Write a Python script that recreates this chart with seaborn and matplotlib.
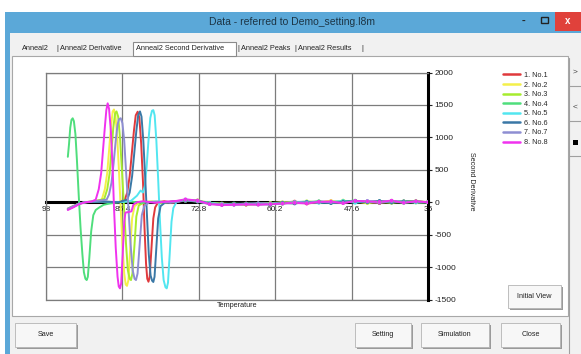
import numpy as np
import pandas as pd
import matplotlib
matplotlib.use("Agg")
import matplotlib.pyplot as plt
from matplotlib.patches import Rectangle
import seaborn as sns

# ---- data ----
SERIES = ["1. No.1", "2. No.2", "3. No.3", "4. No.4",
          "5. No.5", "6. No.6", "7. No.7", "8. No.8"]
COLORS = ["#e0393c", "#f4f04a", "#a6ec2e", "#4fde7c",
          "#52e6f0", "#3a78a6", "#8e8ed2", "#f032ee"]

X_TICKS = [98, 85.4, 72.8, 60.2, 47.6, 35]
X_LABELS = ["98", "85.4", "72.8", "60.2", "47.6", "35"]
Y_TICKS = [2000, 1500, 1000, 500, 0, -500, -1000, -1500]

# melt region, temperature (deg C) / second derivative
T1 = [94.4, 93.5, 92.5, 91.5, 89.0, 86.0, 85.0, 84.6, 84.2, 83.85, 83.5, 83.2, 82.88, 82.6, 82.3,
      82.0, 81.75, 81.5, 81.3, 81.1, 80.9, 80.6, 80.3, 80.0, 79.5, 78.5, 77.0]
V1 = [-100, -60, -20, 0, 10, 0, 40, 150, 400, 750, 1100, 1340, 1396, 1300, 900,
      300, -400, -950, -1180, -1226, -1150, -700, -250, -80, 0, 15, -10]

T2 = [94.4, 93.5, 92.5, 91.5, 90.0, 88.8, 88.3, 87.9, 87.6, 87.3, 87.0, 86.79, 86.55, 86.25,
      85.95, 85.7, 85.4, 85.1, 84.85, 84.64, 84.4, 84.1, 83.8, 83.4, 82.5, 81.0, 79.0, 77.0]
V2 = [-110, -70, -20, 0, 10, 40, 200, 450, 800, 1150, 1400, 1430, 1340, 1000,
      450, -50, -650, -1100, -1270, -1290, -1200, -700, -250, -60, 0, 10, -10, 15]

T3 = [94.4, 93.5, 92.5, 91.5, 90.0, 88.4, 87.9, 87.5, 87.2, 86.9, 86.6, 86.37, 86.1, 85.8,
      85.45, 85.15, 84.8, 84.5, 84.2, 83.98, 83.75, 83.4, 83.1, 82.7, 81.8, 80.5, 79.0, 77.0]
V3 = [-100, -60, -20, 0, 15, 50, 200, 450, 800, 1150, 1370, 1400, 1320, 1000,
      450, -50, -650, -1050, -1180, -1200, -1100, -650, -220, -50, 0, 10, -15, 10]

T4 = [94.4, 94.2, 94.0, 93.8, 93.6, 93.4, 93.15, 92.9, 92.6, 92.3, 92.0, 91.75, 91.5, 91.29,
      91.1, 90.85, 90.55, 90.2, 89.8, 89.2, 88.5, 87.5, 86.0, 84.0, 82.0, 80.0, 78.0, 76.5]
V4 = [700, 900, 1150, 1270, 1294, 1250, 1050, 650, 100, -400, -800, -1080, -1180, -1200,
      -1150, -850, -450, -200, -120, -80, -40, -20, 0, 10, -10, 10, 0, 15]

T5 = [94.4, 93.5, 92.5, 91.5, 89.0, 86.0, 84.0, 83.0, 82.4, 82.0, 81.7, 81.4, 81.1, 80.8, 80.52,
      80.3, 80.08, 79.8, 79.5, 79.2, 78.9, 78.6, 78.3, 78.09, 77.88, 77.6, 77.3, 77.0, 76.5, 75.8]
V5 = [-110, -70, -20, 0, 10, 0, 20, 100, 180, 150, 250, 550, 950, 1300, 1410,
      1420, 1340, 950, 350, -300, -850, -1200, -1310, -1328, -1240, -800, -300, -90, 0, 20]

T6 = [94.4, 93.5, 92.5, 91.5, 89.0, 86.0, 84.6, 84.2, 83.8, 83.45, 83.1, 82.8, 82.5, 82.25,
      81.95, 81.65, 81.35, 81.05, 80.75, 80.5, 80.3, 80.1, 79.8, 79.5, 79.1, 78.3, 77.0]
V6 = [-110, -70, -20, 0, 10, 0, 40, 150, 400, 750, 1100, 1340, 1400, 1320,
      950, 400, -200, -800, -1130, -1210, -1230, -1150, -700, -250, -60, 0, 10]

T7 = [94.4, 93.5, 92.5, 91.5, 90.0, 88.0, 87.6, 87.2, 86.85, 86.5, 86.2, 85.95, 85.68, 85.4,
      85.1, 84.75, 84.4, 84.05, 83.7, 83.4, 83.16, 82.9, 82.55, 82.2, 81.8, 81.0, 79.5, 77.5]
V7 = [-100, -60, -20, 0, 15, 40, 120, 300, 600, 950, 1200, 1280, 1295, 1220,
      950, 400, -100, -650, -1050, -1180, -1200, -1100, -650, -200, -60, 0, 10, -10]

T8 = [94.4, 93.5, 92.5, 91.5, 90.5, 89.8, 89.3, 88.9, 88.6, 88.3, 88.05, 87.83, 87.6, 87.3, 87.0,
      86.8, 86.5, 86.2, 86.0, 85.8, 85.6, 85.35, 85.1, 84.9, 84.3, 83.9, 83.6, 83.0, 82.0, 80.0,
      78.0, 76.5]
V8 = [-120, -80, -30, 0, 10, 40, 200, 450, 800, 1150, 1420, 1525, 1440, 1100, 500,
      -50, -700, -1150, -1300, -1328, -1250, -800, -300, -160, -150, -140, -40, 0, 15, -10,
      10, 20]

# flat noisy tail, shared temperature grid
TAIL_T = [75, 73, 71, 69, 67, 65, 63, 61, 59, 57, 55, 53, 51, 49, 47, 45, 43, 41, 39, 37, 35]
TAIL_1 = [30, 20, -20, -30, -25, -35, -20, -30, -10, 10, -20, 0, 15, -10, 20, 10, -15, 20, 5, 10, 0]
TAIL_2 = [20, 30, -10, -25, -35, -20, -30, -15, 0, -10, 15, -5, 20, 0, 10, -15, 10, 0, 15, -5, 0]
TAIL_3 = [35, 15, -15, -20, -30, -40, -25, -10, -20, 5, -10, 10, -5, 25, 0, 15, 5, -10, 10, 20, 0]
TAIL_4 = [25, 10, -25, -35, -20, -30, -35, -20, -5, -15, 0, 15, -10, 10, 25, -5, 15, 10, -10, 5, 0]
TAIL_5 = [40, 20, -10, -30, -40, -25, -20, -25, -15, 0, 10, -10, 5, 20, -10, 20, 0, 15, 10, -5, 0]
TAIL_6 = [20, 25, -20, -40, -30, -20, -30, -35, -10, -20, 5, 0, -15, 10, 15, 0, 20, -5, 15, 10, 0]
TAIL_7 = [30, 10, -30, -25, -35, -30, -15, -20, -25, 5, -5, 10, 0, -10, 20, 10, -10, 15, 0, 10, 0]
TAIL_8 = [45, 25, -30, -45, -40, -35, -40, -30, -20, -10, -20, 5, 10, -15, 20, 15, 5, 25, -10, 15, 0]

HEADS = [(T1, V1), (T2, V2), (T3, V3), (T4, V4), (T5, V5), (T6, V6), (T7, V7), (T8, V8)]
TAILS = [TAIL_1, TAIL_2, TAIL_3, TAIL_4, TAIL_5, TAIL_6, TAIL_7, TAIL_8]

rows, tail_rows = [], []
for name, (th, vh), vt in zip(SERIES, HEADS, TAILS):
    for t, v in zip(th + TAIL_T, vh + vt):
        rows.append((name, t, v))
    for t, v in zip(TAIL_T, vt):
        tail_rows.append((name, t, v))
df = pd.DataFrame(rows, columns=["series", "temp", "value"])
df_tail = pd.DataFrame(tail_rows, columns=["series", "temp", "value"])

# ---- figure / window chrome ----
sns.set_style("white")
plt.rcParams["font.family"] = ["Liberation Sans", "DejaVu Sans"]

W, H = 581, 354
fig = plt.figure(figsize=(W / 100, H / 100), dpi=100)


def rect(x0, y0, x1, y1, **kw):
    fig.patches.append(Rectangle((x0 / W, 1 - y1 / H), (x1 - x0) / W, (y1 - y0) / H,
                                 transform=fig.transFigure, **kw))


def txt(x, y, s, **kw):
    fig.text(x / W, 1 - y / H, s, **kw)


rect(0, 0, W, H, facecolor="white", edgecolor="none")
rect(5, 12, W, H, facecolor="#5ba8d8", edgecolor="none")
rect(10, 33, W, H, facecolor="#f1f1f1", edgecolor="none")
txt(292, 22, "Data - referred to Demo_setting.l8m", fontsize=7.5, color="#1c3444",
    ha="center", va="center")
rect(555, 12, W, 31, facecolor="#e0413b", edgecolor="none")
txt(568, 21, "x", fontsize=7, color="white", ha="center", va="center", weight="bold")
txt(523, 21, "-", fontsize=8, color="#222222", ha="center", va="center", weight="bold")
rect(541, 17, 548, 23, facecolor="none", edgecolor="#222222", linewidth=1)

# tab strip
rect(12, 56, 568, 316, facecolor="white", edgecolor="#a8a8a8", linewidth=0.8)
rect(133, 42, 236, 56, facecolor="white", edgecolor="#8a8a8a", linewidth=0.8)
tab_font = dict(fontsize=5.3, color="#222222", va="center")
txt(22, 49, "Anneal2", **tab_font)
txt(56, 49, "|", **tab_font)
txt(60, 49, "Anneal2 Derivative", **tab_font)
txt(136, 49, "Anneal2 Second Derivative", **tab_font)
txt(237, 49, "|", **tab_font)
txt(241, 49, "Anneal2 Peaks", **tab_font)
txt(294, 49, "|", **tab_font)
txt(298, 49, "Anneal2 Results", **tab_font)
txt(361, 49, "|", **tab_font)

# right side strip
fig.add_artist(plt.Line2D([569 / W, 569 / W], [1 - 58 / H, 0], color="#a0a0a0", lw=0.8))
for yy in (86, 121, 156):
    fig.add_artist(plt.Line2D([569 / W, 1], [1 - yy / H] * 2, color="#a0a0a0", lw=0.8))
txt(575, 72, ">", fontsize=6, color="#444444", ha="center", va="center")
txt(575, 107, "<", fontsize=6, color="#444444", ha="center", va="center")
rect(573, 140, 578, 145, facecolor="black", edgecolor="none")


def button(x0, y0, x1, y1, label):
    rect(x0 + 1.5, y0 + 1.5, x1 + 1.5, y1 + 1.5, facecolor="#9a9a9a", edgecolor="none")
    rect(x0, y0, x1, y1, facecolor="#f7f7f7", edgecolor="#b4b4b4", linewidth=0.6)
    txt((x0 + x1) / 2, (y0 + y1) / 2, label, fontsize=5.2, color="#222222",
        ha="center", va="center")


button(15, 323, 76, 347, "Save")
button(355, 323, 411, 347, "Setting")
button(421, 323, 489, 347, "Simulation")
button(501, 323, 560, 347, "Close")
button(508, 285, 561, 308, "Initial View")

# ---- the chart ----
L, R, TOP, BOT = 46, 428, 72.5, 299.5
ax = fig.add_axes([L / W, 1 - BOT / H, (R - L) / W, (BOT - TOP) / H])
ax.set_zorder(5)
ax.set_facecolor("white")

sns.lineplot(data=df, x="temp", y="value", hue="series", palette=COLORS,
             estimator=None, sort=False, linewidth=1.4, ax=ax, zorder=3)
sns.scatterplot(data=df_tail, x="temp", y="value", hue="series", palette=COLORS,
                s=7, linewidth=0, legend=False, ax=ax, zorder=3)

ax.set_xlim(98, 35)
ax.set_ylim(-1500, 2000)
ax.set_xticks(X_TICKS)
ax.set_xticklabels(X_LABELS)
ax.set_yticks(Y_TICKS)
ax.set_yticklabels([str(v) for v in Y_TICKS])
ax.grid(True, color="#7c7c7c", linewidth=0.9)
ax.set_axisbelow(True)

ax.spines["bottom"].set_position(("data", 0))
ax.spines["bottom"].set_color("black")
ax.spines["bottom"].set_linewidth(2.2)
ax.spines["bottom"].set_zorder(2)
ax.spines["right"].set_color("black")
ax.spines["right"].set_linewidth(2.2)
for side in ("top", "left"):
    ax.spines[side].set_color("#7c7c7c")
    ax.spines[side].set_linewidth(0.9)
ax.axhline(-1500, color="#7c7c7c", lw=0.9, clip_on=False, zorder=1)

ax.yaxis.tick_right()
ax.tick_params(axis="y", direction="out", length=3, width=0.8, pad=1.5,
               labelsize=6, colors="#222222", right=True, left=False)
ax.tick_params(axis="x", length=0, pad=2.5, labelsize=6, colors="#222222")

ax.set_xlabel("Temperature", fontsize=5.2, color="#222222")
ax.xaxis.set_label_coords(0.5, -0.012)
ax.yaxis.set_label_position("right")
ax.set_ylabel("Second Derivative", fontsize=5.2, color="#222222", rotation=270, va="center")
ax.yaxis.set_label_coords(1.115, 0.52)

sns.move_legend(ax, "upper left", bbox_to_anchor=(500 / W, 1 - 69 / H),
                bbox_transform=fig.transFigure, frameon=False, title=None,
                fontsize=5.2, handlelength=2.4, handletextpad=0.5,
                labelspacing=0.35, borderaxespad=0)
for line in ax.get_legend().get_lines():
    line.set_linewidth(1.8)

fig.savefig("out.png", dpi=100)
